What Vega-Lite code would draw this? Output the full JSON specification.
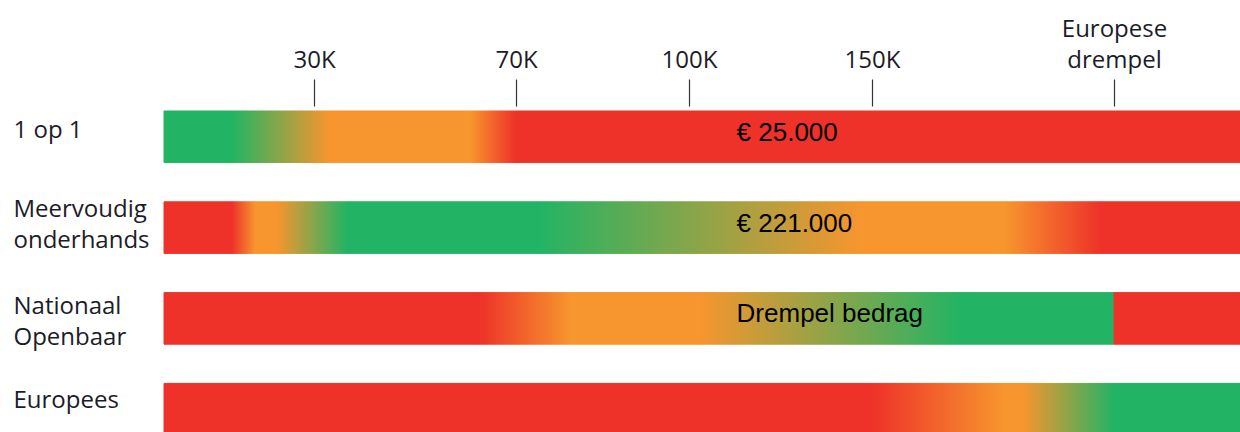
{
  "$schema": "https://vega.github.io/schema/vega-lite/v6.json",
  "width": 1076,
  "height": 334,
  "autosize": {"type": "none"},
  "padding": {"top": 106, "left": 164, "right": 0, "bottom": 0},
  "background": "white",
  "config": {"view": {"stroke": null}},
  "datasets": {
    "segmenten": [
      {"rij": "1 op 1", "van": 0, "tot": 13500, "type": "groen"},
      {"rij": "1 op 1", "van": 13500, "tot": 33000, "type": "groen-oranje"},
      {"rij": "1 op 1", "van": 33000, "tot": 61000, "type": "oranje"},
      {"rij": "1 op 1", "van": 61000, "tot": 70000, "type": "oranje-rood"},
      {"rij": "1 op 1", "van": 70000, "tot": 260000, "type": "rood"},
      {"rij": "Meervoudig onderhands", "van": 0, "tot": 13600, "type": "rood"},
      {"rij": "Meervoudig onderhands", "van": 13600, "tot": 18200, "type": "rood-oranje"},
      {"rij": "Meervoudig onderhands", "van": 18200, "tot": 22600, "type": "oranje"},
      {"rij": "Meervoudig onderhands", "van": 22600, "tot": 36500, "type": "oranje-groen"},
      {"rij": "Meervoudig onderhands", "van": 36500, "tot": 74000, "type": "groen"},
      {"rij": "Meervoudig onderhands", "van": 74000, "tot": 146700, "type": "groen-oranje"},
      {"rij": "Meervoudig onderhands", "van": 146700, "tot": 189000, "type": "oranje"},
      {"rij": "Meervoudig onderhands", "van": 189000, "tot": 217000, "type": "oranje-rood"},
      {"rij": "Meervoudig onderhands", "van": 217000, "tot": 260000, "type": "rood"},
      {"rij": "Nationaal Openbaar", "van": 0, "tot": 62900, "type": "rood"},
      {"rij": "Nationaal Openbaar", "van": 62900, "tot": 79400, "type": "rood-oranje"},
      {"rij": "Nationaal Openbaar", "van": 79400, "tot": 103000, "type": "oranje"},
      {"rij": "Nationaal Openbaar", "van": 103000, "tot": 176000, "type": "oranje-groen"},
      {"rij": "Nationaal Openbaar", "van": 176000, "tot": 221000, "type": "groen"},
      {"rij": "Nationaal Openbaar", "van": 221000, "tot": 260000, "type": "rood"},
      {"rij": "Europees", "van": 0, "tot": 150000, "type": "rood"},
      {"rij": "Europees", "van": 150000, "tot": 188400, "type": "rood-oranje"},
      {"rij": "Europees", "van": 188400, "tot": 194300, "type": "oranje"},
      {"rij": "Europees", "van": 194300, "tot": 221000, "type": "oranje-groen"},
      {"rij": "Europees", "van": 221000, "tot": 260000, "type": "groen"}
    ],
    "teksten": [
      {"rij": "1 op 1", "x": 113000, "tekst": "€ 25.000"},
      {"rij": "Meervoudig onderhands", "x": 113000, "tekst": "€ 221.000"},
      {"rij": "Nationaal Openbaar", "x": 113000, "tekst": "Drempel bedrag"}
    ]
  },
  "data": {"name": "segmenten"},
  "encoding": {
    "y": {
      "field": "rij",
      "type": "nominal",
      "sort": ["1 op 1", "Meervoudig onderhands", "Nationaal Openbaar", "Europees"],
      "scale": {"paddingInner": 0.432, "paddingOuter": 0.055},
      "axis": {
        "title": null,
        "orient": "left",
        "domain": false,
        "ticks": false,
        "tickSize": 0,
        "labelAlign": "left",
        "labelBaseline": "middle",
        "labelPadding": 151,
        "labelLimit": 0,
        "labelFont": "Open Sans",
        "labelFontSize": 24,
        "labelColor": "#1c1c28",
        "labelLineHeight": 31,
        "labelExpr": "datum.value == '1 op 1' ? datum.value : split(datum.value, ' ')",
        "labelOffset": {
          "condition": [
            {"test": "datum.value == '1 op 1'", "value": -6},
            {"test": "datum.value == 'Meervoudig onderhands'", "value": -18},
            {"test": "datum.value == 'Nationaal Openbaar'", "value": -11}
          ],
          "value": -8
        }
      }
    },
    "x": {
      "field": "van",
      "type": "quantitative",
      "scale": {
        "domain": [0, 30000, 70000, 100000, 150000, 221000, 260000],
        "range": [0, 150, 352, 525, 708, 950, 1076],
        "nice": false,
        "zero": false
      },
      "axis": {
        "title": null,
        "orient": "top",
        "values": [30000, 70000, 100000, 150000, 221000],
        "domain": false,
        "grid": false,
        "tickSize": 27,
        "tickColor": "#333333",
        "tickWidth": 1.2,
        "labelPadding": {
          "condition": {"test": "datum.value == 221000", "value": 38},
          "value": 7
        },
        "labelFont": "Open Sans",
        "labelFontSize": 24,
        "labelColor": "#1c1c28",
        "labelLineHeight": 31,
        "labelAlign": "center",
        "labelOverlap": false,
        "labelFlush": false,
        "labelExpr": "datum.value == 221000 ? ['Europese', 'drempel'] : format(datum.value / 1000, 'd') + 'K'"
      }
    },
    "x2": {"field": "tot"}
  },
  "layer": [
    {
      "transform": [{"filter": "indexof(['groen','oranje','rood'], datum.type) >= 0"}],
      "mark": {"type": "rect", "strokeWidth": 1},
      "encoding": {
        "color": {
          "field": "type",
          "type": "nominal",
          "scale": {"domain": ["groen", "oranje", "rood"], "range": ["#22b464", "#f7952e", "#ee3229"]},
          "legend": null
        },
        "stroke": {
          "field": "type",
          "type": "nominal",
          "scale": {"domain": ["groen", "oranje", "rood"], "range": ["#22b464", "#f7952e", "#ee3229"]},
          "legend": null
        }
      }
    },
    {
      "transform": [{"filter": "datum.type == 'groen-oranje'"}],
      "mark": {
        "type": "rect",
        "strokeWidth": 1,
        "fill": {"gradient": "linear", "stops": [{"offset": 0, "color": "#22b464"}, {"offset": 1, "color": "#f7952e"}]},
        "stroke": {"gradient": "linear", "stops": [{"offset": 0, "color": "#22b464"}, {"offset": 1, "color": "#f7952e"}]}
      },
      "encoding": {}
    },
    {
      "transform": [{"filter": "datum.type == 'oranje-groen'"}],
      "mark": {
        "type": "rect",
        "strokeWidth": 1,
        "fill": {"gradient": "linear", "stops": [{"offset": 0, "color": "#f7952e"}, {"offset": 1, "color": "#22b464"}]},
        "stroke": {"gradient": "linear", "stops": [{"offset": 0, "color": "#f7952e"}, {"offset": 1, "color": "#22b464"}]}
      },
      "encoding": {}
    },
    {
      "transform": [{"filter": "datum.type == 'oranje-rood'"}],
      "mark": {
        "type": "rect",
        "strokeWidth": 1,
        "fill": {"gradient": "linear", "stops": [{"offset": 0, "color": "#f7952e"}, {"offset": 1, "color": "#ee3229"}]},
        "stroke": {"gradient": "linear", "stops": [{"offset": 0, "color": "#f7952e"}, {"offset": 1, "color": "#ee3229"}]}
      },
      "encoding": {}
    },
    {
      "transform": [{"filter": "datum.type == 'rood-oranje'"}],
      "mark": {
        "type": "rect",
        "strokeWidth": 1,
        "fill": {"gradient": "linear", "stops": [{"offset": 0, "color": "#ee3229"}, {"offset": 1, "color": "#f7952e"}]},
        "stroke": {"gradient": "linear", "stops": [{"offset": 0, "color": "#ee3229"}, {"offset": 1, "color": "#f7952e"}]}
      },
      "encoding": {}
    },
    {
      "data": {"name": "teksten"},
      "mark": {"type": "text", "align": "left", "baseline": "alphabetic", "dy": 4, "font": "Liberation Sans", "fontSize": 26, "color": "#000000"},
      "encoding": {
        "x": {"field": "x", "type": "quantitative"},
        "x2": null,
        "text": {"field": "tekst", "type": "nominal"}
      }
    }
  ]
}
